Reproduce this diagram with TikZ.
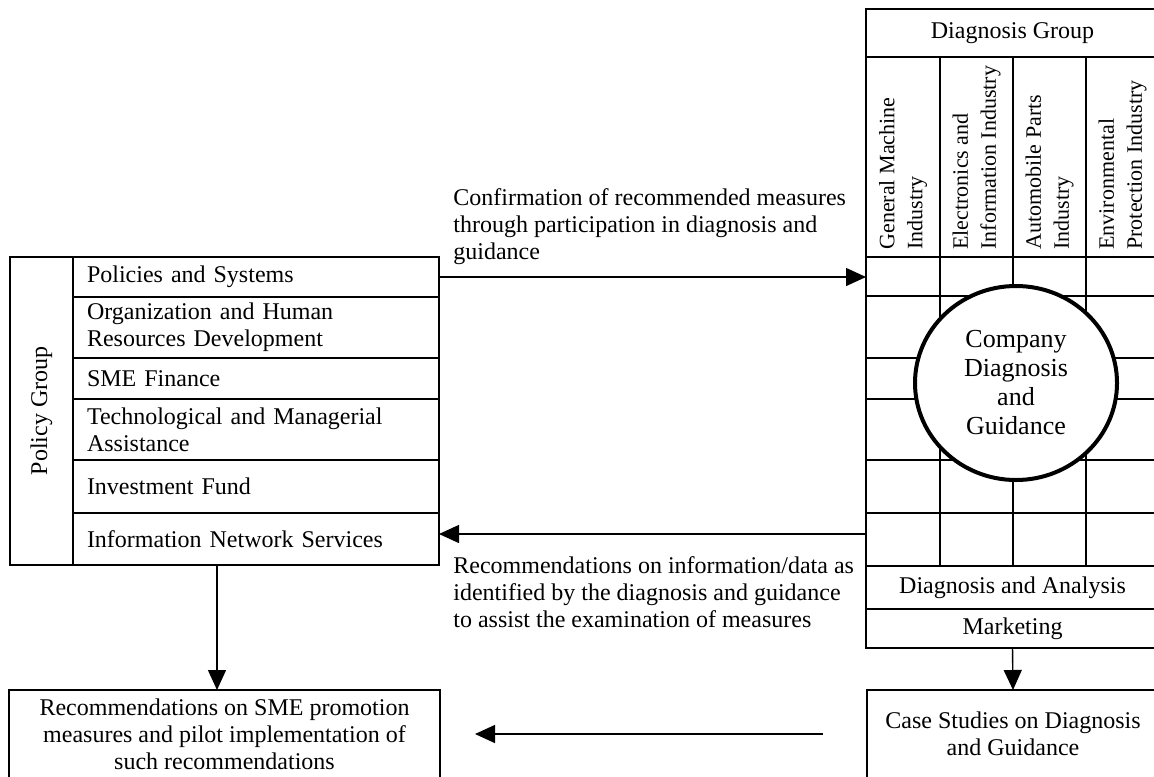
\documentclass[tikz,border=0pt]{standalone}
\usepackage{fontspec}
\setmainfont{Liberation Serif}
\usetikzlibrary{arrows.meta,shapes.geometric}

\tikzset{
  box/.style={draw, line width=1pt, inner sep=0pt, outer sep=0pt},
  cell/.style={box, text width=169pt, inner xsep=7pt, align=left},
  arr/.style={line width=0.7pt, -{Triangle[length=10pt,width=9pt]}},
  lbl/.style={inner sep=0pt, align=left, anchor=west},
  vlbl/.style={inner sep=0pt, align=left, anchor=west, rotate=90, font=\fontsize{11}{14}\selectfont},
}

\begin{document}
\begin{tikzpicture}[x=0.5pt,y=-0.5pt,font=\fontsize{12}{13.5}\selectfont]
\useasboundingbox (0,0) rectangle (1154,776);

% policy group
\node[box, minimum width=154pt, minimum height=31.5pt, rotate=90] (pg) at (41.5,411) {Policy Group};
\node[cell, minimum height=20pt] (ps) at (256,277) {Policies and Systems};
\node[cell, minimum height=30.5pt] (ohr) at (256,327.5) {Organization and Human\\Resources Development};
\node[cell, minimum height=20.5pt] (smef) at (256,378.5) {SME Finance};
\node[cell, minimum height=30.5pt] (tma) at (256,429.5) {Technological and Managerial\\Assistance};
\node[cell, minimum height=26.5pt] (invf) at (256,486.5) {Investment Fund};
\node[cell, minimum height=26pt] (ins) at (256,539) {Information Network Services};

% diagnosis group
\node[box, minimum width=146.5pt, minimum height=24pt] (dg) at (1012.5,33) {Diagnosis Group};
\foreach \l/\r/\txt [count=\k] in {866/940/{General Machine\\Industry},
    940/1013/{Electronics and\\Information Industry},
    1013/1086/{Automobile Parts\\Industry},
    1086/1159/{Environmental\\Protection Industry}} {
  \draw[line width=1pt] (\l,57) rectangle (\r,257);
  \node[vlbl] (col\k) at ({(\l+\r)/2},250) {\txt};
}
\foreach \t/\b in {257/296,296/358,358/399,399/460,460/513,513/566}
  \foreach \l/\r in {866/940,940/1013,1013/1086,1086/1159}
    \draw[line width=1pt] (\l,\t) rectangle (\r,\b);
\coordinate (gin) at (866,277);
\coordinate (gout) at (866,534);

\node[draw, ellipse, line width=2pt, fill=white, minimum width=101pt, minimum height=97pt,
  inner sep=0pt, align=center, font=\fontsize{13}{14.5}\selectfont] (cdg) at (1016,383)
  {Company\\Diagnosis\\and\\Guidance};

\node[box, minimum width=146.5pt, minimum height=21.5pt] (dana) at (1012.5,587.5) {Diagnosis and Analysis};
\node[box, minimum width=146.5pt, minimum height=19.5pt] (mkt) at (1012.5,628.5) {Marketing};

% results
\node[box, minimum width=215.5pt, minimum height=44pt, align=center] (rec) at (224.5,734)
  {Recommendations on SME promotion\\measures and pilot implementation of\\such recommendations};
\node[box, minimum width=146pt, minimum height=44pt, align=center] (case) at (1013,734)
  {Case Studies on Diagnosis\\and Guidance};

% arrows
\draw[arr] (ps.east) -- (gin);
\draw[arr] (gout) -- (gout -| ins.east);
\coordinate (pgout) at (217,565);
\draw[arr] (pgout) -- (pgout |- rec.north);
\draw[arr] (mkt.south) -- (case.north);
\draw[arr] ([xshift=-22pt]case.west) -- ([xshift=17.5pt]rec.east);

\node[lbl] (conf) at (453,227) {Confirmation of recommended measures\\through participation in diagnosis and\\guidance};
\node[lbl] (recinfo) at (453,592) {Recommendations on information/data as\\identified by the diagnosis and guidance\\to assist the examination of measures};
\end{tikzpicture}
\end{document}
